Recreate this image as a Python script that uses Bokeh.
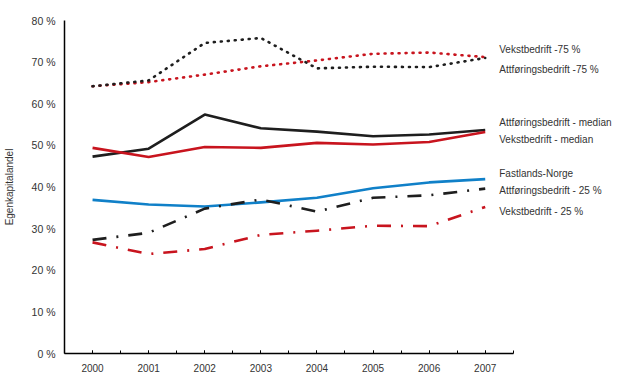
from bokeh.plotting import figure
from bokeh.models import FixedTicker, Label, CustomJSTickFormatter, Range1d
from bokeh.embed import file_html
from bokeh.resources import INLINE

years = [2000, 2001, 2002, 2003, 2004, 2005, 2006, 2007]

vekst_75 = [64.2, 65.2, 67.0, 69.0, 70.4, 72.0, 72.3, 71.2]
attf_75 = [64.2, 65.6, 74.6, 75.8, 68.5, 68.9, 68.8, 71.0]
attf_median = [47.3, 49.2, 57.4, 54.1, 53.3, 52.2, 52.6, 53.7]
vekst_median = [49.4, 47.2, 49.6, 49.4, 50.6, 50.2, 50.8, 53.2]
fastland = [36.9, 35.8, 35.3, 36.3, 37.4, 39.7, 41.1, 41.9]
attf_25 = [27.3, 29.0, 34.8, 37.0, 34.1, 37.4, 38.0, 39.6]
vekst_25 = [26.7, 23.9, 25.1, 28.5, 29.5, 30.7, 30.6, 35.2]

label_texts = ["Vekstbedrift -75 %", "Attføringsbedrift -75 %",
               "Attføringsbedrift - median", "Vekstbedrift - median",
               "Fastlands-Norge", "Attføringsbedrift - 25 %", "Vekstbedrift - 25 %"]
label_y = [73.0, 68.2, 55.5, 51.4, 43.2, 39.2, 34.1]

y_ticks = [0, 10, 20, 30, 40, 50, 60, 70, 80]
half_ticks = [1999.5 + 0.5 * i for i in range(17)]

RED = "#c8141e"
BLACK = "#1e1e1e"
BLUE = "#1080c8"
TEXT = "#333333"
FONT = "Liberation Sans"

p = figure(width=620, height=391, output_backend="svg", toolbar_location=None,
           x_range=Range1d(1999.5, 2009.34), y_range=Range1d(0, 80),
           min_border_left=61, min_border_right=4, min_border_top=20, min_border_bottom=38)
p.outline_line_color = None
p.grid.visible = False
p.background_fill_color = "white"
p.border_fill_color = "white"

series = [
    (vekst_75, RED, "1 6", "round"),
    (attf_75, BLACK, "1 6", "round"),
    (attf_median, BLACK, "solid", "butt"),
    (vekst_median, RED, "solid", "butt"),
    (fastland, BLUE, "solid", "butt"),
    (attf_25, BLACK, "14 10 2 10", "butt"),
    (vekst_25, RED, "14 10 2 10", "butt"),
]
for vals, col, dash, cap in series:
    p.line(years, vals, line_color=col, line_width=2.6, line_dash=dash, line_cap=cap,
           line_join="round")

for t, yv in zip(label_texts, label_y):
    p.add_layout(Label(x=2007.25, y=yv, text=t, text_font=FONT, text_font_size="10px",
                       text_color=TEXT, text_baseline="middle", text_align="left"))

xa = p.xaxis[0]
xa.ticker = FixedTicker(ticks=years, minor_ticks=half_ticks)
xa.bounds = (1999.5, 2007.5)
xa.axis_line_color = "black"
xa.axis_line_width = 1.5
xa.major_tick_in = 3
xa.major_tick_out = 0
xa.minor_tick_in = 3
xa.minor_tick_out = 0
xa.major_tick_line_color = "black"
xa.minor_tick_line_color = "black"
xa.major_label_text_font = FONT
xa.major_label_text_font_size = "10px"
xa.major_label_text_color = TEXT
xa.major_label_standoff = 10

ya = p.yaxis[0]
ya.ticker = FixedTicker(ticks=y_ticks)
ya.formatter = CustomJSTickFormatter(code="return tick + ' %';")
ya.axis_line_color = "black"
ya.axis_line_width = 1.5
ya.major_tick_in = 0
ya.major_tick_out = 0
ya.minor_tick_line_color = None
ya.major_label_text_font = FONT
ya.major_label_text_font_size = "10.5px"
ya.major_label_text_color = TEXT
ya.major_label_standoff = 9
ya.axis_label = "Egenkapitalandel"
ya.axis_label_text_font = FONT
ya.axis_label_text_font_size = "10px"
ya.axis_label_text_font_style = "normal"
ya.axis_label_text_color = TEXT
ya.axis_label_standoff = 14

open("out.html", "w").write(file_html(p, INLINE))
